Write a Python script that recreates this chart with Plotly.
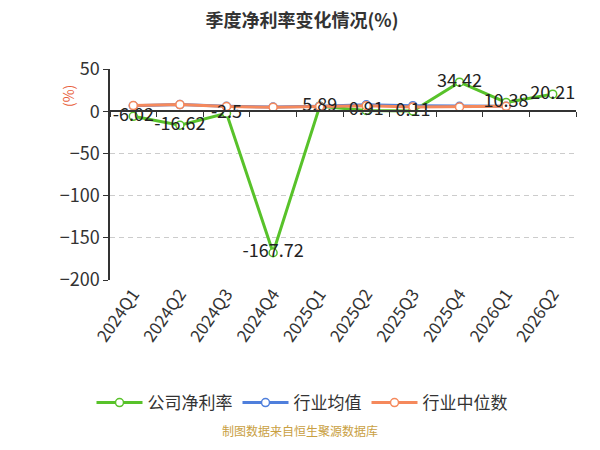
import plotly.graph_objects as go

# quarter labels and series values
quarters = ['2024Q1', '2024Q2', '2024Q3', '2024Q4', '2025Q1',
            '2025Q2', '2025Q3', '2025Q4', '2026Q1', '2026Q2']
company_margin = [-6.02, -16.62, -2.5, -167.72, 5.89, 0.91, 0.11, 34.42, 10.38, 20.21]
industry_mean = [6.5, 7.8, 5.8, 4.9, 6.0, 7.5, 6.5, 5.8, 6.0, None]
industry_median = [6.7, 7.8, 5.5, 4.7, 5.5, 6.5, 5.0, 5.0, 5.8, None]
labels = ['-6.02', '-16.62', '-2.5', '-167.72', '5.89', '0.91', '0.11', '34.42', '10.38', '20.21']

green = '#58c22a'
blue = '#4f7fdc'
orange = '#f5895c'
font = 'Noto Sans CJK SC'
y_min, y_max = -200, 50

fig = go.Figure()

def series(name, values, color):
    return go.Scatter(
        x=quarters, y=values, name=name, mode='lines+markers',
        line=dict(color=color, width=3),
        marker=dict(symbol='circle', size=8, color='white', line=dict(color=color, width=1.5)),
        connectgaps=False,
    )

fig.add_trace(series('公司净利率', company_margin, green))
fig.add_trace(series('行业均值', industry_mean, blue))
fig.add_trace(series('行业中位数', industry_median, orange))

# value labels on the overlay axis so they sit on top of the lines
fig.add_trace(go.Scatter(
    x=quarters, y=company_margin, xaxis='x2', mode='text', text=labels,
    textposition='middle center', textfont=dict(size=18, color='#222', family=font),
    showlegend=False, hoverinfo='skip',
))

fig.update_layout(
    width=600, height=450,
    paper_bgcolor='white', plot_bgcolor='white',
    margin=dict(l=102, r=32, t=61, b=178, autoexpand=False),
    font=dict(family=font, color='#333'),
    title=dict(text='<b>季度净利率变化情况(%)</b>', x=0.49, xref='container',
               y=0.972, yref='container', yanchor='middle',
               font=dict(size=18, color='#333', family=font)),
    showlegend=True,
    legend=dict(orientation='h', x=0.49, xref='container', xanchor='center',
                y=-0.583, yanchor='middle', font=dict(size=17, color='#333'),
                itemwidth=46),
    xaxis=dict(type='category', range=[-0.5, 9.5], showline=False, ticks='',
               showgrid=False, tickangle=-55, tickfont=dict(size=17, color='#333')),
    xaxis2=dict(type='category', matches='x', overlaying='x', anchor='free',
                position=(0 - y_min) / (y_max - y_min), showline=True,
                linecolor='#333', linewidth=1.5, ticks='outside', tickson='boundaries',
                ticklen=5, tickcolor='#333', showticklabels=False, showgrid=False),
    yaxis=dict(range=[y_min, y_max], tickvals=[50, 0, -50, -100, -150, -200],
               showline=True, linecolor='#333', linewidth=1.5, ticks='outside',
               ticklen=5, tickcolor='#333', showgrid=True, gridcolor='#cccccc',
               griddash='5px,4px', zeroline=False, tickfont=dict(size=18, color='#333')),
)

fig.add_annotation(text='(%)', xref='paper', yref='y', x=-0.09, y=18, xanchor='center',
                   textangle=-90, showarrow=False, font=dict(size=14, color='#e8603a'))
fig.add_annotation(text='制图数据来自恒生聚源数据库', xref='paper', yref='paper',
                   x=(292 - 102) / 466, y=-0.763, showarrow=False,
                   font=dict(size=12, color='#c9a042'))

fig.write_html("out.html")
